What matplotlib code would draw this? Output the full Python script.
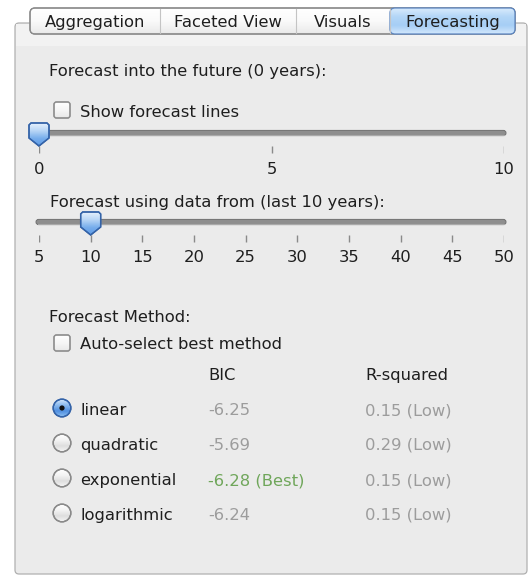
import numpy as np
import matplotlib
matplotlib.use("Agg")
import matplotlib.pyplot as plt
from matplotlib.patches import FancyBboxPatch, Polygon, Circle, Rectangle
from matplotlib.colors import LinearSegmentedColormap

# ---------------- data ----------------
tabs = ["Aggregation", "Faceted View", "Visuals", "Forecasting"]
selected_tab = "Forecasting"

future_label = "Forecast into the future (0 years):"
future_value = 0
future_ticks = [0, 5, 10]

history_label = "Forecast using data from (last 10 years):"
history_value = 10
history_ticks = [5, 10, 15, 20, 25, 30, 35, 40, 45, 50]

show_lines_label = "Show forecast lines"
method_title = "Forecast Method:"
auto_label = "Auto-select best method"
col_headers = ["BIC", "R-squared"]

methods = ["linear", "quadratic", "exponential", "logarithmic"]
selected_method = "linear"
bic = [-6.25, -5.69, -6.28, -6.24]
r_squared = [0.15, 0.29, 0.15, 0.15]
r_quality = ["Low", "Low", "Low", "Low"]

# ---------------- style ----------------
W, H = 529, 575
FONT = "DejaVu Sans"
FS = 11.8
TXT = "#1E1E1E"
GRAY = "#9C9C9C"
GREEN = "#6FA65A"

fig = plt.figure(figsize=(W / 100, H / 100), dpi=100)
fig.patch.set_facecolor("white")
ax = fig.add_axes([0, 0, 1, 1])
ax.set_xlim(0, W)
ax.set_ylim(H, 0)
ax.axis("off")


def gradient(patch, colors, x0, x1, y0, y1, z):
    patch.set_zorder(z)
    patch.set_facecolor("none")
    ax.add_patch(patch)
    g = np.linspace(0, 1, 128).reshape(-1, 1)
    cmap = LinearSegmentedColormap.from_list("g", colors)
    im = ax.imshow(g, cmap=cmap, extent=(x0, x1, y1, y0), aspect="auto",
                   origin="upper", zorder=z - 0.05, interpolation="bilinear")
    im.set_clip_path(patch)
    return im


def text(x, y, s, color=TXT, ha="left", size=FS, axes=None):
    (axes or ax).text(x, y, s, color=color, ha=ha, va="baseline", fontsize=size,
                      family=FONT, zorder=10, clip_on=False)


# panel
ax.add_patch(FancyBboxPatch((15, 23), 512, 551, boxstyle="round,pad=0,rounding_size=4",
                            facecolor="#EBEBEB", edgecolor="#B0B0B0", lw=0.9, zorder=1))
ax.add_patch(Rectangle((15.6, 23.6), 510.8, 22, facecolor="#F2F2F2", edgecolor="none", zorder=1.1))

# tabs
tab_edges = [30, 160, 296, 390, 515]
bar = FancyBboxPatch((tab_edges[0], 8), tab_edges[-1] - tab_edges[0], 26,
                     boxstyle="round,pad=0,rounding_size=5", lw=0.9, edgecolor="#8A8A8A")
gradient(bar, ["#FFFFFF", "#FAFAFA", "#E9E9E9"], tab_edges[0], tab_edges[-1], 8, 34, 3)
ax.add_patch(FancyBboxPatch((tab_edges[0], 8), tab_edges[-1] - tab_edges[0], 26,
                            boxstyle="round,pad=0,rounding_size=5", lw=0.9,
                            edgecolor="#8A8A8A", facecolor="none", zorder=3.5))
for i, name in enumerate(tabs):
    x0, x1 = tab_edges[i], tab_edges[i + 1]
    if name == selected_tab:
        sel = FancyBboxPatch((x0, 8), x1 - x0, 26, boxstyle="round,pad=0,rounding_size=5",
                             lw=0.9, edgecolor="#5C86C2")
        gradient(sel, ["#D9EBFC", "#B3D6F7", "#A6CEF5", "#D3E8FC"], x0, x1, 8, 34, 3.6)
    if i > 0:
        ax.plot([x0, x0], [9, 33], color="#C4C4C4", lw=0.8, zorder=4)
    text((x0 + x1) / 2, 27, name, ha="center")


# ---------------- sliders ----------------
def slider(track_y, x_lo, x_hi, vmin, vmax, ticks, value, lab_base, left_ext=3):
    sax = fig.add_axes([x_lo / W, 1 - (track_y + 50) / H, (x_hi - x_lo) / W, 80 / H])
    sax.set_xlim(vmin, vmax)
    sax.set_ylim(50, -30)  # pixel offsets from track centre, downward positive
    sax.axis("off")
    sax.patch.set_alpha(0)
    sax.vlines(ticks, 13, 20, color="#8A8A8A", lw=1.0)
    for t in ticks:
        text(t, lab_base - track_y, str(t), ha="center", axes=sax)

    def px(v):
        d = sax.transData.transform((v, 0))
        return ax.transData.inverted().transform(d)[0]

    a, b = px(vmin), px(vmax)
    ax.add_patch(FancyBboxPatch((a - left_ext, track_y - 2.6), b - a + left_ext + 2, 5.2,
                                boxstyle="round,pad=0,rounding_size=2.6",
                                facecolor="#8E8E8E", edgecolor="#707070", lw=0.7, zorder=5))
    ax.plot([a - left_ext + 2, b], [track_y + 1.6, track_y + 1.6], color="#A9A9A9", lw=0.8, zorder=5.1)
    c = px(value)
    hw = 10
    pts = [(c - hw + 2, track_y - 10), (c + hw - 2, track_y - 10), (c + hw, track_y - 8),
           (c + hw, track_y + 5), (c, track_y + 13), (c - hw, track_y + 5), (c - hw, track_y - 8)]
    th = Polygon(pts, closed=True, lw=1.0, edgecolor="#3463A8")
    gradient(th, ["#E6F1FD", "#B8D6F6", "#78AEEC", "#5D9BE6"], c - hw, c + hw,
             track_y - 10, track_y + 13, 6)
    ax.add_patch(Polygon(pts, closed=True, lw=1.0, edgecolor="#3463A8",
                         facecolor="none", zorder=6.2))


def checkbox(cx, cy):
    box = FancyBboxPatch((cx - 8, cy - 8), 16, 16, boxstyle="round,pad=0,rounding_size=2.5",
                         lw=0.9, edgecolor="#8F8F8F")
    gradient(box, ["#FFFFFF", "#F6F6F6", "#E8E8E8"], cx - 8, cx + 8, cy - 8, cy + 8, 5)
    ax.add_patch(FancyBboxPatch((cx - 8, cy - 8), 16, 16, boxstyle="round,pad=0,rounding_size=2.5",
                                lw=0.9, edgecolor="#8F8F8F", facecolor="none", zorder=5.2))


text(49, 76, future_label)
checkbox(62, 110)
text(80, 117, show_lines_label)

slider(133, 39, 504, future_ticks[0], future_ticks[-1], future_ticks, future_value, 174, left_ext=9)
text(50, 207, history_label)
slider(222, 39, 504, history_ticks[0], history_ticks[-1], history_ticks, history_value, 262)

# ---------------- method table ----------------
text(49, 322, method_title)
checkbox(62, 343)
text(80, 349, auto_label)
col_x = [208, 365]
for cx, h in zip(col_x, col_headers):
    text(cx, 380, h)

best = int(np.argmin(bic))
row0, step = 408, 35
for i, m in enumerate(methods):
    cy = row0 + i * step
    r = 8.8
    if m == selected_method:
        circ = Circle((62, cy), r, lw=1.0, edgecolor="#3463A8")
        gradient(circ, ["#D6E8FB", "#8DBBEE", "#4F8FE0", "#8EC0F2"], 62 - r, 62 + r, cy - r, cy + r, 5)
        ax.add_patch(Circle((62, cy), r, lw=1.0, edgecolor="#3463A8", facecolor="none", zorder=5.2))
        ax.add_patch(Circle((62, cy), 2.6, facecolor="#101010", edgecolor="none", zorder=5.3))
    else:
        circ = Circle((62, cy), r, lw=1.0, edgecolor="#8A8A8A")
        gradient(circ, ["#FFFFFF", "#F4F4F4", "#DEDEDE", "#F6F6F6"], 62 - r, 62 + r, cy - r, cy + r, 5)
        ax.add_patch(Circle((62, cy), r, lw=1.0, edgecolor="#8A8A8A", facecolor="none", zorder=5.2))
    base = cy + 7
    text(80, base, m)
    if i == best:
        text(col_x[0], base, f"{bic[i]:.2f} (Best)", color=GREEN)
    else:
        text(col_x[0], base, f"{bic[i]:.2f}", color=GRAY)
    text(col_x[1], base, f"{r_squared[i]:.2f} ({r_quality[i]})", color=GRAY)

ax.set_xlim(0, W)
ax.set_ylim(H, 0)
fig.savefig("out.png", dpi=100, facecolor="white")
